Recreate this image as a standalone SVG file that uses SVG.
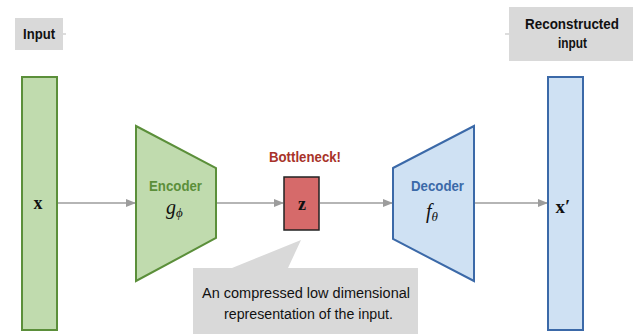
<svg xmlns="http://www.w3.org/2000/svg" width="633" height="334" viewBox="0 0 633 334">
<style>
.lbl{font-family:"Liberation Sans",Arial,sans-serif;font-weight:bold;font-size:15px;fill:#111;text-anchor:middle}
.math{font-family:"Liberation Serif","DejaVu Serif",serif;font-weight:bold;fill:#111;text-anchor:middle}
.it{font-family:"Liberation Serif","DejaVu Serif",serif;font-style:italic;fill:#111}
.note{font-family:"Liberation Sans",Arial,sans-serif;font-size:15.5px;fill:#111;text-anchor:middle}
.gbox{fill:#d9d9d9}
.green{fill:#c0dbae;stroke:#5b8f3a;stroke-width:2}
.blue{fill:#cfe1f3;stroke:#3b69a8;stroke-width:2}
.conn{stroke:#9c9c9c;stroke-width:1.5;fill:none;marker-end:url(#ah)}
</style>
<defs>
<marker id="ah" markerWidth="10" markerHeight="8" refX="9" refY="4" orient="auto" markerUnits="userSpaceOnUse">
<path d="M0,0 L10,4 L0,8 z" fill="#9c9c9c"/>
</marker>
</defs>
<rect width="633" height="334" fill="#fff"/>

<g id="input-label">
<rect class="gbox" x="15" y="18" width="48" height="32"/>
<text class="lbl" x="39" y="38.5" textLength="32" lengthAdjust="spacingAndGlyphs">Input</text>
<line x1="63" y1="34" x2="66" y2="34" stroke="#bbb" stroke-width="1"/>
</g>

<g id="recon-label">
<rect class="gbox" x="509" y="7" width="124" height="54"/>
<text class="lbl" x="572" y="28.5" textLength="94" lengthAdjust="spacingAndGlyphs">Reconstructed</text>
<text class="lbl" x="572.5" y="47.5" textLength="29" lengthAdjust="spacingAndGlyphs">input</text>
<line x1="505" y1="34" x2="509" y2="34" stroke="#bbb" stroke-width="1"/>
</g>

<g id="connectors">
<line class="conn" x1="58" y1="203" x2="135" y2="203"/>
<line class="conn" x1="217" y1="203" x2="283" y2="203"/>
<line class="conn" x1="320" y1="203" x2="392" y2="203"/>
<line class="conn" x1="475" y1="203" x2="547" y2="203"/>
</g>

<g id="x">
<rect class="green" x="22" y="77" width="35" height="253"/>
<text class="math" x="38" y="209" font-size="18">x</text>
</g>

<g id="encoder">
<polygon class="green" points="136,126 216,168 216,238 136,281"/>
<text class="lbl" x="175.5" y="190.5" textLength="53" lengthAdjust="spacingAndGlyphs" style="fill:#5b8f3a">Encoder</text>
<text class="it" x="166" y="214" font-size="20">g<tspan font-size="13" dy="3">ϕ</tspan></text>
</g>

<g id="bottleneck">
<text class="lbl" x="305" y="162" textLength="72" lengthAdjust="spacingAndGlyphs" style="fill:#a8332a">Bottleneck!</text>
<rect x="284" y="177" width="35" height="53" fill="#d66a6a" stroke="#222" stroke-width="1.5"/>
<text class="math" x="302" y="210" font-size="18">z</text>
</g>

<g id="decoder">
<polygon class="blue" points="393,168 474,126 474,281 393,239"/>
<text class="lbl" x="437.5" y="190.5" textLength="53" lengthAdjust="spacingAndGlyphs" style="fill:#3b69a8">Decoder</text>
<text class="it" x="426" y="218" font-size="20">f<tspan font-size="13" dy="3">θ</tspan></text>
</g>

<g id="xprime">
<rect class="blue" x="548" y="77" width="35" height="253"/>
<text class="math" x="563" y="213" font-size="19">x′</text>
</g>

<g id="callout">
<path class="gbox" d="M193,268 L232,268 L301,240 L288,268 L418,268 L418,334 L193,334 z"/>
<text class="note" x="306" y="297.5" textLength="208" lengthAdjust="spacingAndGlyphs">An compressed low dimensional</text>
<text class="note" x="308.5" y="318.5" textLength="169" lengthAdjust="spacingAndGlyphs">representation of the input.</text>
</g>
</svg>
